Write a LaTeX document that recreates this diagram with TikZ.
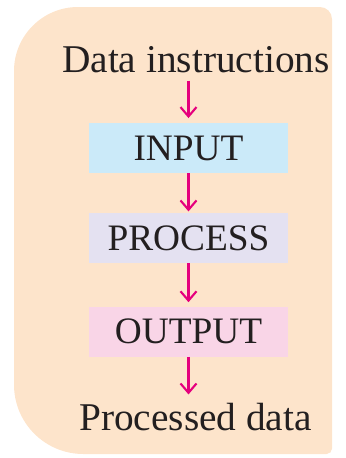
\documentclass[tikz,border=0pt]{standalone}
\usepackage{fontspec}
\setmainfont{Liberation Serif}
\usetikzlibrary{arrows.meta}
\definecolor{peach}{HTML}{FDE4CB}
\definecolor{inblue}{HTML}{CBEAF9}
\definecolor{prolav}{HTML}{E4E1F1}
\definecolor{outpink}{HTML}{F9D5E7}
\definecolor{arrmag}{HTML}{E5007D}
\definecolor{ink}{HTML}{231F20}
\begin{document}
\begin{tikzpicture}[x=0.75pt,y=-0.75pt,
  lbl/.style={font=\fontsize{29.5}{34}\selectfont, text=ink, inner sep=0pt},
  stepbox/.style={lbl, font=\fontsize{28}{32}\selectfont, minimum width=149pt, minimum height=37.5pt, text depth=0pt},
  arr/.style={draw=arrmag, line width=1.6pt, -{Straight Barb[length=7pt,width=12pt,line width=1.6pt]}}]
\useasboundingbox (0,0) rectangle (346,458);
\fill[peach] (14,300) [rounded corners=48pt] -- (14,7) [rounded corners=9pt] -- (332,7) [rounded corners=4pt] -- (332,454) [rounded corners=52pt] -- (14,454) -- cycle;
\node[lbl, anchor=base] (data) at (196,72) {Data instructions};
\node[stepbox, fill=inblue] (input) at (188.5,148) {INPUT};
\node[stepbox, fill=prolav] (process) at (188.5,238) {PROCESS};
\node[stepbox, fill=outpink] (output) at (188.5,331.5) {OUTPUT};
\node[lbl, anchor=base] (proc) at (195.5,430) {Processed data};
\draw[arr, shorten <=6pt, shorten >=3.5pt] (data.south -| input.north) -- (input.north);
\draw[arr, shorten >=1pt] (input.south) -- (process.north);
\draw[arr, shorten >=3pt] (process.south) -- (output.north);
\draw[arr, shorten >=6pt] (output.south) -- (output.south |- proc.north);
\end{tikzpicture}
\end{document}
